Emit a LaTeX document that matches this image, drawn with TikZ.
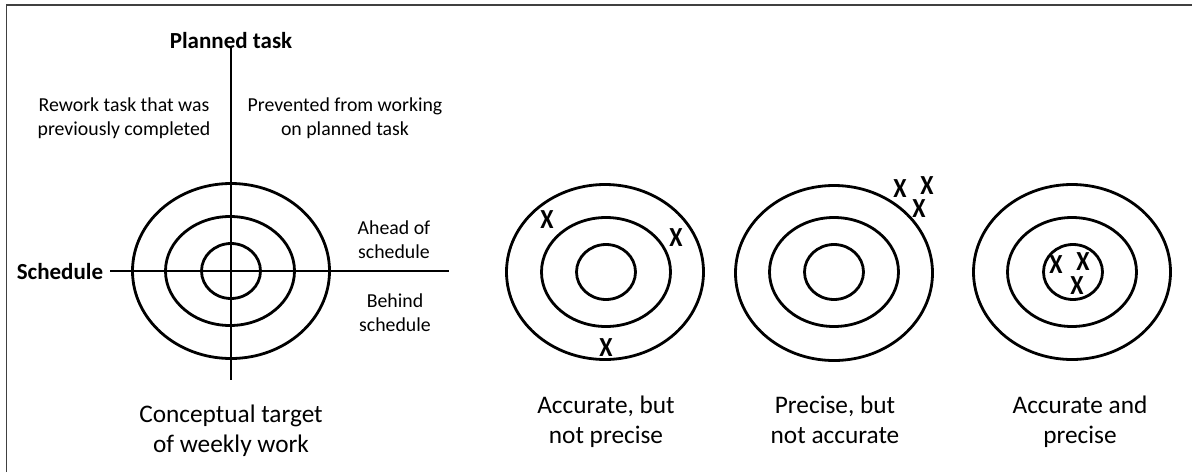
\documentclass[tikz,border=0pt]{standalone}
\usepackage{fontspec}
\setmainfont{Carlito}
\usetikzlibrary{shapes.geometric}
\begin{document}
\begin{tikzpicture}[x=1pt,y=-1pt,
  ring/.style={draw, line width=2.8pt, ellipse, inner sep=0pt, outer sep=0pt},
  outerring/.style={ring, minimum width=197pt, minimum height=175pt},
  midring/.style={ring, minimum width=129pt, minimum height=109pt},
  innerring/.style={ring, minimum width=59pt, minimum height=55pt},
  axis/.style={line width=1.4pt},
  frameline/.style={line width=1.3pt, draw=black!75},
  small/.style={font=\fontsize{19.8}{23.5}\selectfont, align=center, inner sep=0pt},
  axislabel/.style={font=\bfseries\fontsize{23}{26}\selectfont, inner sep=0pt},
  caption/.style={font=\fontsize{25.3}{30}\selectfont, align=center, inner sep=0pt},
  hit/.style={font=\bfseries\fontsize{24}{24}\selectfont, inner sep=0pt, yscale=1.15, transform shape}]
\useasboundingbox (0,0) rectangle (1192,472);
% frame (left and top edges)
\draw[frameline] (6.5,472) -- (6.5,5) -- (1192,5);

% conceptual target
\node[outerring] (c0) at (231,271) {};
\node[midring] (c1) at (230,271) {};
\node[innerring] (c2) at (231,271) {};
\coordinate (vtop) at (231,48);
\coordinate (vbot) at (231,380);
\coordinate (hl) at (110,271);
\coordinate (hr) at (449,271);
\draw[axis] (vtop) -- (vbot);
\draw[axis] (hl) -- (hr);
\node[axislabel, anchor=base] (planned) at (231,48) {Planned task};
\node[axislabel, anchor=base] (schedule) at (60,279) {Schedule};
\node[small, anchor=base] (rework) at (124,135) {Rework task that was\\previously completed};
\node[small, anchor=base] (prevented) at (345,135) {Prevented from working\\on planned task};
\node[small, anchor=base] (ahead) at (394,258) {Ahead of\\schedule};
\node[small, anchor=base] (behind) at (395,331) {Behind\\schedule};
\node[caption, anchor=base] (cap0) at (231,452) {Conceptual target\\of weekly work};

% accurate, but not precise
\node[outerring] (a0) at (605,272) {};
\node[midring] (a1) at (606,272) {};
\node[innerring] (a2) at (606,272) {};
\node[hit] (ax1) at (547,220) {X};
\node[hit] (ax2) at (676,238) {X};
\node[hit] (ax3) at (606,348) {X};
\node[caption, anchor=base] (cap1) at (606,443) {Accurate, but\\not precise};

% precise, but not accurate
\node[outerring] (p0) at (834,273) {};
\node[midring] (p1) at (834,272) {};
\node[innerring] (p2) at (834,272) {};
\node[hit] (px1) at (900,189) {X};
\node[hit] (px2) at (927,186) {X};
\node[hit] (px3) at (919,209) {X};
\node[caption, anchor=base] (cap2) at (835,443) {Precise, but\\not accurate};

% accurate and precise
\node[outerring] (b0) at (1072,272) {};
\node[midring] (b1) at (1072,272) {};
\node[innerring] (b2) at (1073,272) {};
\node[hit] (bx1) at (1056,265) {X};
\node[hit] (bx2) at (1083,262) {X};
\node[hit] (bx3) at (1077,286) {X};
\node[caption, anchor=base] (cap3) at (1080,443) {Accurate and\\precise};
\end{tikzpicture}
\end{document}
